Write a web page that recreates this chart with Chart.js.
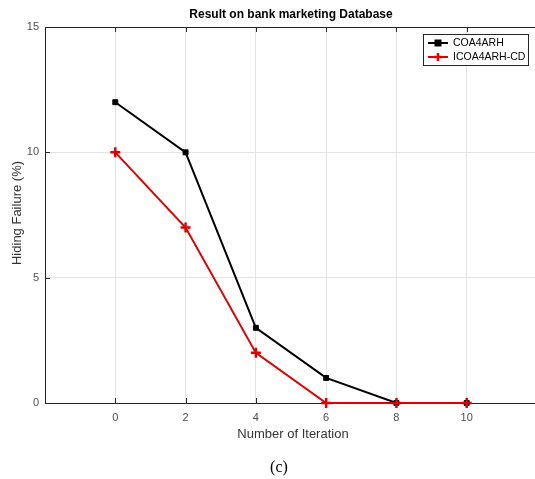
<!DOCTYPE html>
<html>
<head>
<meta charset="utf-8">
<script src="https://cdn.jsdelivr.net/npm/chart.js@4.4.0/dist/chart.umd.min.js"></script>
<style>
  html, body { margin: 0; padding: 0; background: #fff; overflow: hidden; }
  #wrap { width: 545px; height: 479px; }
</style>
</head>
<body>
<div id="wrap"><canvas id="myChart" width="545" height="479"></canvas></div>
<script>
// data
const iterations = [0, 2, 4, 6, 8, 10];
const coa4arh = [12, 10, 3, 1, 0, 0];
const icoa4arhCd = [10, 7, 2, 0, 0, 0];
const seriesNames = ['COA4ARH', 'ICOA4ARH-CD'];

const titleText = 'Result on bank marketing Database';
const xTitle = 'Number of Iteration';
const yTitle = 'Hiding Failure (%)';
const caption = '(c)';

const toPoints = (vals) => vals.map((v, i) => ({ x: iterations[i], y: v }));

// draws the MATLAB-like box, inside ticks, texts and legend
const matlabLook = {
  id: 'matlabLook',
  beforeDatasetsDraw(chart) {
    const { ctx, chartArea: a, scales } = chart;
    ctx.save();
    ctx.strokeStyle = '#262626';
    ctx.lineWidth = 1;
    ctx.strokeRect(Math.round(a.left) + 0.5, Math.round(a.top) + 0.5,
      Math.round(a.right - a.left), Math.round(a.bottom - a.top));
    ctx.beginPath();
    scales.x.ticks.forEach((t) => {
      const px = Math.round(scales.x.getPixelForValue(t.value)) + 0.5;
      ctx.moveTo(px, a.bottom); ctx.lineTo(px, a.bottom - 5);
      ctx.moveTo(px, a.top); ctx.lineTo(px, a.top + 5);
    });
    scales.y.ticks.forEach((t) => {
      const py = Math.round(scales.y.getPixelForValue(t.value)) + 0.5;
      ctx.moveTo(a.left, py); ctx.lineTo(a.left + 5, py);
    });
    ctx.stroke();
    ctx.restore();
  },
  afterDraw(chart) {
    const { ctx, chartArea: a } = chart;
    const cx = (a.left + a.right) / 2;
    ctx.save();
    ctx.fillStyle = '#000';
    ctx.textAlign = 'center';
    ctx.textBaseline = 'middle';
    ctx.font = 'bold 12px "Liberation Sans", Arial, sans-serif';
    ctx.fillText(titleText, cx, 15);

    ctx.fillStyle = '#333';
    ctx.font = '13px "Liberation Sans", Arial, sans-serif';
    ctx.fillText(xTitle, 293, 434);

    ctx.save();
    ctx.translate(17, 213);
    ctx.rotate(-Math.PI / 2);
    ctx.fillText(yTitle, 0, 0);
    ctx.restore();

    ctx.fillStyle = '#000';
    ctx.font = '16px "Liberation Serif", "Times New Roman", serif';
    ctx.fillText(caption, 279, 468);

    // legend box
    const bx = 423.5, by = 34.5, bw = 105, bh = 31;
    ctx.fillStyle = '#fff';
    ctx.fillRect(bx, by, bw, bh);
    ctx.strokeStyle = '#262626';
    ctx.lineWidth = 1;
    ctx.strokeRect(bx, by, bw, bh);
    ctx.textAlign = 'left';
    ctx.font = '10.5px "Liberation Sans", Arial, sans-serif';
    const rows = [43, 57];
    chart.data.datasets.forEach((ds, i) => {
      const y = rows[i];
      ctx.strokeStyle = ds.borderColor;
      ctx.lineWidth = 2;
      ctx.beginPath();
      ctx.moveTo(428, y); ctx.lineTo(448, y);
      ctx.stroke();
      ctx.fillStyle = ds.borderColor;
      if (ds.pointStyle === 'rect') {
        ctx.fillRect(434.5, y - 3.5, 7, 7);
      } else {
        ctx.lineWidth = 2.5;
        ctx.beginPath();
        ctx.moveTo(438, y - 4); ctx.lineTo(438, y + 4);
        ctx.moveTo(434, y); ctx.lineTo(442, y);
        ctx.stroke();
      }
      ctx.fillStyle = '#000';
      ctx.fillText(ds.label, 453, y + 0.5);
    });
    ctx.restore();
  }
};

const ctx = document.getElementById('myChart').getContext('2d');
const myChart = new Chart(ctx, {
  type: 'line',
  data: {
    datasets: [{
      label: seriesNames[0],
      data: toPoints(coa4arh),
      borderColor: '#000000',
      backgroundColor: '#000000',
      borderWidth: 2,
      pointStyle: 'rect',
      pointRadius: 3.5,
      pointBorderWidth: 1,
      fill: false,
      clip: false,
      order: 1
    }, {
      label: seriesNames[1],
      data: toPoints(icoa4arhCd),
      borderColor: '#e00000',
      backgroundColor: '#e00000',
      borderWidth: 2,
      pointStyle: 'cross',
      pointRadius: 5,
      pointBorderWidth: 2.5,
      fill: false,
      clip: false,
      order: 0
    }]
  },
  options: {
    responsive: false,
    animation: false,
    layout: { padding: { left: 0, right: 3, top: 27, bottom: 0 } },
    plugins: {
      legend: { display: false },
      title: { display: false },
      tooltip: { enabled: false }
    },
    scales: {
      x: {
        type: 'linear',
        min: -2,
        max: 12,
        afterFit: (scale) => { scale.height = 76; },
        border: { display: false },
        grid: { color: '#e3e3e3', drawTicks: false },
        ticks: {
          stepSize: 2,
          padding: 8,
          color: '#4d4d4d',
          font: { family: '"Liberation Sans", Arial, sans-serif', size: 11 },
          callback: (v) => (v < 0 || v > 10) ? '' : v
        }
      },
      y: {
        min: 0,
        max: 15,
        afterFit: (scale) => { scale.width = 45; },
        border: { display: false },
        grid: { color: '#e3e3e3', drawTicks: false },
        ticks: {
          stepSize: 5,
          padding: 6,
          color: '#4d4d4d',
          font: { family: '"Liberation Sans", Arial, sans-serif', size: 11 }
        }
      }
    }
  },
  plugins: [matlabLook]
});
</script>
</body>
</html>
